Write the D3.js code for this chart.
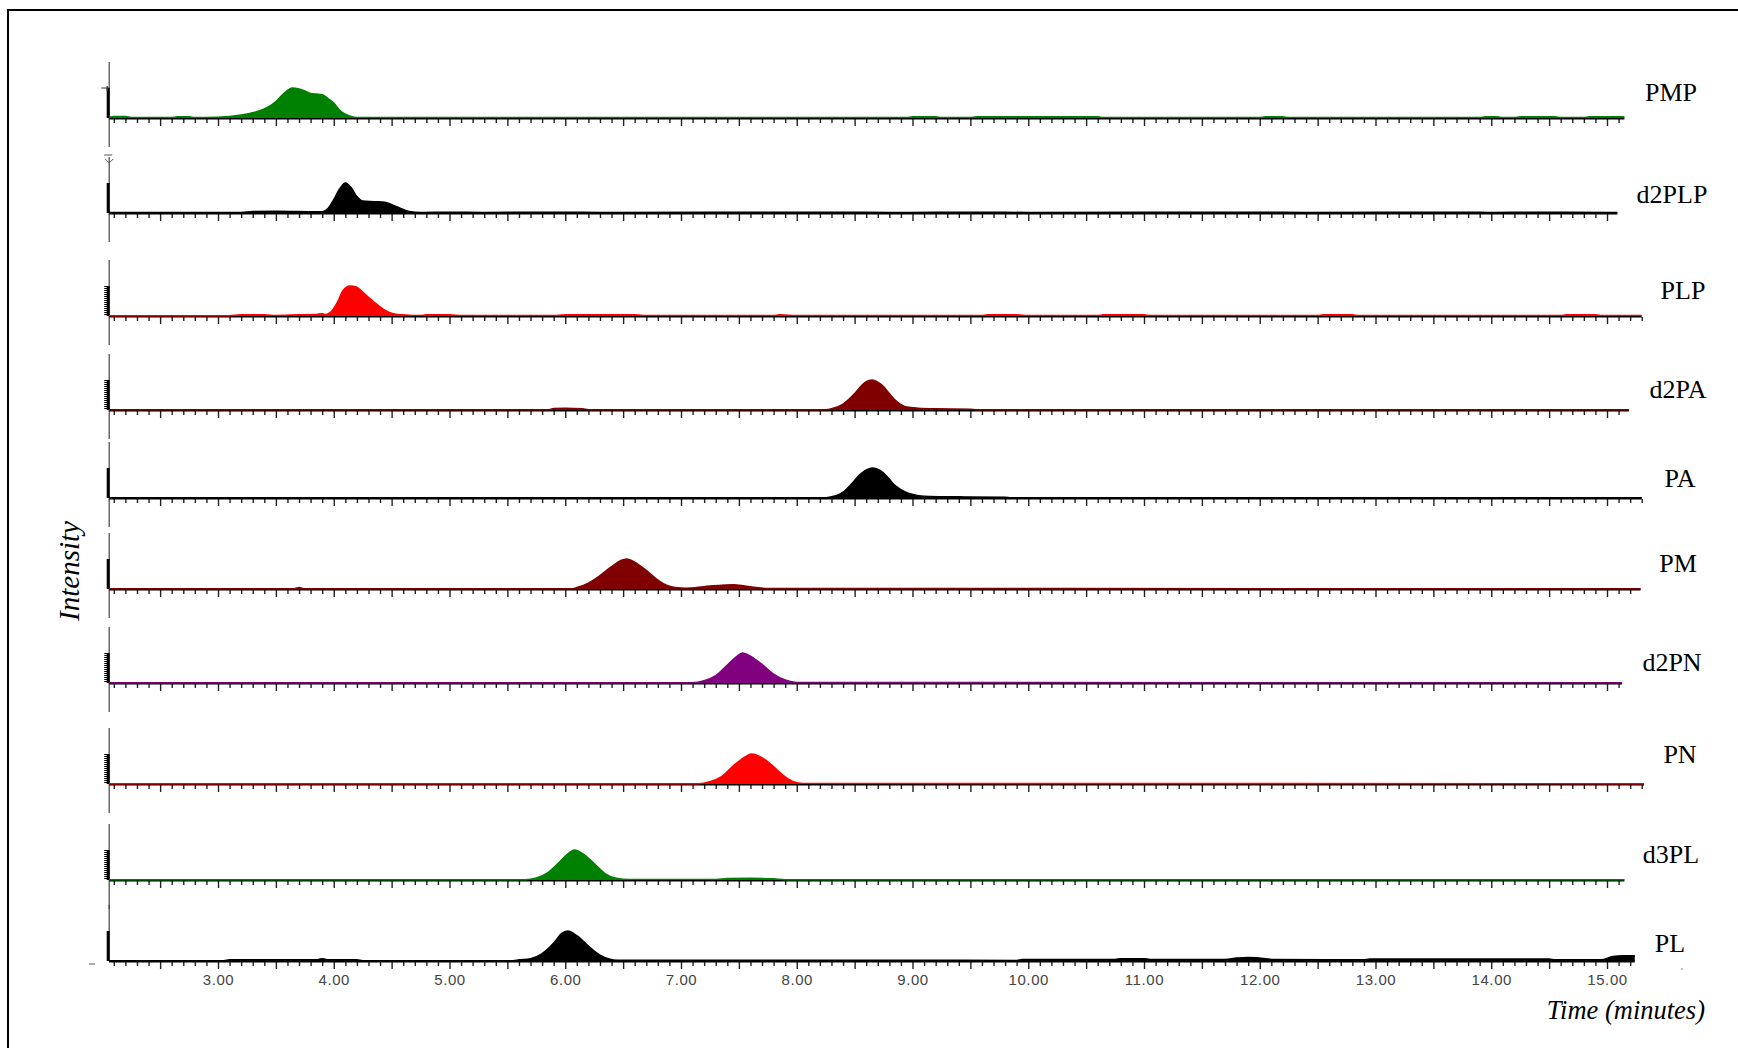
<!DOCTYPE html>
<html><head><meta charset="utf-8">
<script src="https://cdn.jsdelivr.net/npm/d3@7"></script>
<style>
html,body{margin:0;padding:0;background:#fff;}
svg{display:block;}
</style></head>
<body>
<svg id="chart" width="1738" height="1048"></svg>
<script>
// ---------- DATA (time in minutes, relative intensity 0-100) ----------
const seriesNames = ["PMP","d2PLP","PLP","d2PA","PA","PM","d2PN","PN","d3PL","PL"];
const scanStart = 2.06;
const scanEnd = [15.15, 15.09, 15.30, 15.19, 15.30, 15.29, 15.13, 15.32, 15.15, 15.24];
const xTickLabels = [3,4,5,6,7,8,9,10,11,12,13,14,15];

const PMP = [[2.06,3],[2.1,5],[2.2,5],[2.25,2],[2.6,2],[2.65,4],[2.75,4],[2.8,2],[3.0,3],[3.1,5],[3.2,10],[3.3,18],[3.4,30],[3.5,55],[3.55,75],[3.6,92],[3.64,100],[3.7,97],[3.75,90],[3.8,82],[3.85,80],[3.9,78],[3.95,65],[4.0,50],[4.05,27],[4.1,13],[4.15,5],[4.2,2],[8.95,2],[9.0,4],[9.2,4],[9.25,2],[9.5,2],[9.55,4],[10.6,4],[10.65,2],[12.0,2],[12.05,4],[12.2,4],[12.25,2],[13.9,2],[13.95,4],[14.05,4],[14.1,2],[14.2,2],[14.25,4],[14.55,4],[14.6,2],[14.8,2],[14.85,4],[15.15,4]];
const d2PLP = [[2.06,2],[3.2,2],[3.3,5],[3.5,6],[3.7,5],[3.9,4],[3.95,15],[4.0,45],[4.05,80],[4.1,100],[4.15,85],[4.2,55],[4.25,40],[4.35,38],[4.45,35],[4.55,20],[4.65,5],[4.75,2],[5.0,3],[5.3,2],[6.0,3],[6.3,2],[8.4,3],[8.8,2],[9.6,3],[10.0,2],[12.0,3],[12.4,2],[13.8,3],[14.0,2],[14.4,3],[15.09,2]];
const PLP = [[2.06,1],[3.1,1],[3.2,4],[3.4,4],[3.5,2],[3.7,4],[3.85,5],[3.9,8],[3.93,5],[3.97,12],[4.03,45],[4.08,85],[4.14,100],[4.19,98],[4.25,80],[4.3,62],[4.35,46],[4.42,25],[4.48,12],[4.55,5],[4.65,3],[4.75,2],[4.8,4],[5.0,4],[5.1,2],[5.9,2],[6.0,4],[6.6,4],[6.7,2],[7.8,2],[7.85,4],[8.0,2],[9.6,2],[9.65,4],[9.9,4],[10.0,2],[10.6,2],[10.65,4],[11.0,4],[11.05,2],[12.5,2],[12.55,4],[12.8,4],[12.85,2],[14.6,2],[14.65,4],[14.9,4],[14.95,2],[15.30,2]];
const d2PA = [[2.06,1],[5.85,1],[5.9,5],[6.0,6],[6.15,4],[6.2,1],[8.25,1],[8.3,4],[8.4,20],[8.5,55],[8.56,82],[8.6,95],[8.65,100],[8.7,93],[8.75,78],[8.8,55],[8.85,33],[8.9,18],[8.95,10],[9.05,6],[9.2,4],[9.5,3],[9.55,1],[15.19,1]];
const PA = [[2.06,1],[8.25,1],[8.3,4],[8.4,20],[8.48,50],[8.55,80],[8.62,97],[8.66,100],[8.72,92],[8.78,72],[8.84,45],[8.9,28],[8.97,15],[9.05,8],[9.15,5],[9.4,4],[9.8,3],[9.85,1],[15.30,1]];
const PM = [[2.06,1],[3.65,1],[3.7,5],[3.75,1],[6.05,1],[6.1,5],[6.2,20],[6.3,45],[6.4,75],[6.48,95],[6.53,100],[6.6,90],[6.7,62],[6.8,30],[6.88,12],[6.95,5],[7.05,3],[7.2,8],[7.35,13],[7.45,14],[7.55,10],[7.65,5],[7.75,2],[15.29,1]];
const d2PN = [[2.06,1],[7.1,1],[7.2,8],[7.3,25],[7.4,60],[7.48,88],[7.53,100],[7.6,90],[7.7,62],[7.8,30],[7.9,10],[8.0,2],[15.13,1]];
const PN = [[2.06,1],[7.15,1],[7.25,8],[7.35,25],[7.45,60],[7.55,90],[7.61,100],[7.68,92],[7.78,65],[7.88,30],[7.97,8],[8.05,2],[15.32,1]];
const d3PL = [[2.06,1],[5.65,1],[5.75,7],[5.85,25],[5.95,60],[6.03,90],[6.08,100],[6.15,88],[6.25,55],[6.35,20],[6.45,5],[6.55,2],[7.3,2],[7.4,5],[7.6,6],[7.8,4],[7.9,1],[15.15,1]];
const PL = [[2.06,1],[3.05,1],[3.1,4],[3.85,4],[3.9,8],[3.95,4],[4.2,4],[4.25,1],[5.55,1],[5.6,4],[5.7,8],[5.8,25],[5.9,60],[5.97,92],[6.02,100],[6.1,85],[6.2,50],[6.3,20],[6.38,7],[6.45,3],[9.0,3],[9.9,2],[9.95,5],[10.75,5],[10.8,8],[11.0,8],[11.05,5],[11.7,5],[11.8,10],[11.9,12],[12.05,8],[12.1,5],[12.9,4],[12.95,7],[14.5,7],[14.55,4],[14.95,4],[15.05,15],[15.15,18],[15.24,18]];
const seriesData = [PMP,d2PLP,PLP,d2PA,PA,PM,d2PN,PN,d3PL,PL];
const seriesColors = ["#008000","#000000","#ff0000","#800000","#000000","#800000","#800080","#ff0000","#008000","#000000"];

// ---------- LAYOUT ----------
const baselines = [118,213,316,410,498,589,683,784,880,961];
const labelX = [1671,1672,1683,1678,1680,1678,1672,1680,1671,1670];
const labelDy = [-17,-10,-17,-12,-11,-17,-12,-21,-17,-9];
const hatched = [false,false,true,true,false,false,true,true,true,false];
const peakPx = 30;

const svg = d3.select("#chart");
const x = d3.scaleLinear().domain([3,15]).range([218,1607]);
const yLen = d3.scaleLinear().domain([0,100]).range([0,peakPx]);

// frame (top + left lines)
svg.append("path").attr("d","M8,1048 L8,10 L1738,10").attr("fill","none").attr("stroke","#000").attr("stroke-width",2);

seriesData.forEach((data,i)=>{
  const b = baselines[i];
  const g = svg.append("g");
  const x0 = x(scanStart), x1 = x(scanEnd[i]);
  // vertical axis line
  const top = b - 56, bot = (i===seriesData.length-1) ? b : b + 29;
  g.append("line").attr("x1",x0).attr("x2",x0).attr("y1",top).attr("y2",bot)
    .attr("stroke","#444").attr("stroke-width",1.2);
  // y scale bar
  g.append("rect").attr("x",x0-2.5).attr("y",b-30).attr("width",3).attr("height",30).attr("fill","#000");
  if (hatched[i]) {
    d3.range(0,30,2).forEach(k=>{
      g.append("line").attr("x1",x0-5).attr("x2",x0-1).attr("y1",b-30+k+0.5).attr("y2",b-30+k+0.5)
        .attr("stroke","#000").attr("stroke-width",1);
    });
  }
  if (i===0) {
    g.append("path").attr("d",`M${x0-8},${b-30} L${x0},${b-30} M${x0-2},${b-32} L${x0-2},${b-27}`)
      .attr("fill","none").attr("stroke","#333").attr("stroke-width",1.2);
  }
  if (i===1) {
    g.append("path").attr("d",`M${x0-5},${b-58} L${x0+3},${b-58} M${x0-4},${b-54} L${x0},${b-50} L${x0+4},${b-54}`)
      .attr("fill","none").attr("stroke","#555").attr("stroke-width",1);
  }
  // ticks
  const all = d3.range(21, Math.floor(scanEnd[i]*10+1e-6)+1).map(d=>d/10);
  const minor = all.filter(d=>Math.round(d*10)%5!==0);
  const major = all.filter(d=>Math.round(d*10)%5===0);
  const axMinor = d3.axisBottom(x).tickValues(minor).tickSize(4).tickSizeOuter(0).tickFormat("");
  const axMajor = d3.axisBottom(x).tickValues(major).tickSize(7).tickSizeOuter(0).tickFormat("");
  [axMinor, axMajor].forEach(ax=>{
    const a = g.append("g").attr("transform",`translate(0,${b+1})`).call(ax);
    a.select(".domain").remove();
    a.selectAll(".tick line").attr("stroke","#222").attr("stroke-width",1.4);
  });
  // baseline
  g.append("line").attr("x1",x0).attr("x2",x1).attr("y1",b+0.5).attr("y2",b+0.5)
    .attr("stroke","#000").attr("stroke-width",2.2);
  // trace
  const area = d3.area().x(d=>x(d[0])).y0(b).y1(d=>b - yLen(d[1])).curve(d3.curveMonotoneX);
  g.append("path").datum(data).attr("d",area).attr("fill",seriesColors[i]);
  const line = d3.line().x(d=>x(d[0])).y(d=>b - yLen(d[1])).curve(d3.curveMonotoneX);
  g.append("path").datum(data).attr("d",line).attr("fill","none").attr("stroke",seriesColors[i]).attr("stroke-width",1.4);
  // series label
  g.append("text").attr("x",labelX[i]).attr("y",b + labelDy[i]).attr("text-anchor","middle")
    .attr("font-family","'Liberation Serif','Times New Roman',serif").attr("font-size",26)
    .attr("fill","#000").text(seriesNames[i]);
  // x tick labels on bottom panel
  if (i===seriesData.length-1) {
    const ax = d3.axisBottom(x).tickValues(xTickLabels).tickSize(0).tickPadding(11).tickFormat(d3.format(".2f"));
    const a = g.append("g").attr("transform",`translate(0,${b+2})`).call(ax);
    a.select(".domain").remove();
    a.selectAll("text").attr("font-family","'Liberation Sans',Arial,sans-serif").attr("font-size",15)
      .attr("letter-spacing","0.6px").attr("fill","#444");
    g.append("line").attr("x1",89).attr("x2",95).attr("y1",b+3).attr("y2",b+3).attr("stroke","#555");
    g.append("circle").attr("cx",1682).attr("cy",b+8).attr("r",0.8).attr("fill","#777");
  }
});

// axis titles
svg.append("text").attr("transform","translate(79,571) rotate(-90)").attr("text-anchor","middle")
  .attr("font-family","'Liberation Serif','Times New Roman',serif").attr("font-style","italic").attr("font-size",29)
  .text("Intensity");
svg.append("text").attr("x",1705).attr("y",1019).attr("text-anchor","end")
  .attr("font-family","'Liberation Serif','Times New Roman',serif").attr("font-style","italic").attr("font-size",26.5)
  .text("Time (minutes)");
</script>
</body></html>
